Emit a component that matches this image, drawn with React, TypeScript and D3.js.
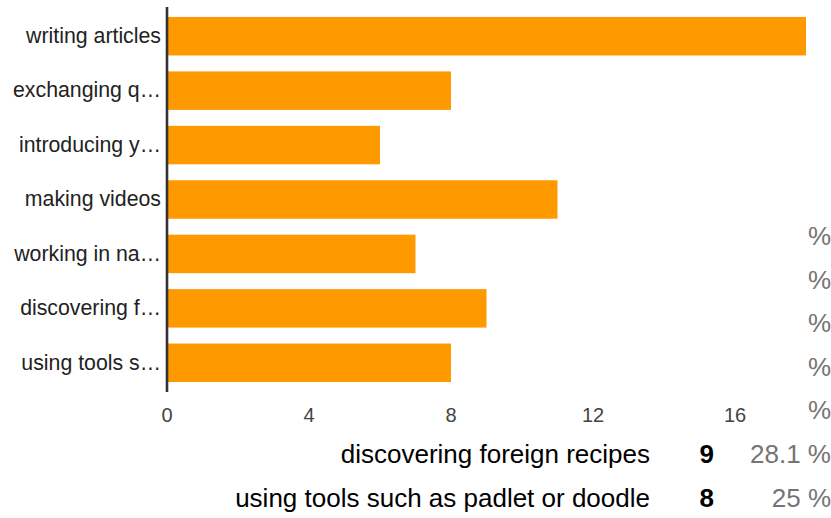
import React from "react";
import * as d3 from "d3";

const categories = [
  "writing articles",
  "exchanging q…",
  "introducing y…",
  "making videos",
  "working in na…",
  "discovering f…",
  "using tools s…",
];
const counts = [18, 8, 6, 11, 7, 9, 8];
const xTicks = [0, 4, 8, 12, 16];
const hiddenRowSuffix = ["%", "%", "%", "%", "%"];
const legendLabels = ["discovering foreign recipes", "using tools such as padlet or doodle"];
const legendCounts = [9, 8];
const legendPercents = ["28.1 %", "25 %"];

const W = 831;
const H = 518;
const FONT = "'Liberation Sans', Arial, sans-serif";

export default function App() {
  const x = d3.scaleLinear().domain([0, 18]).range([167, 806]);
  const y = d3.scaleBand<string>().domain(categories).range([9, 390]).paddingInner(0.293).paddingOuter(0.1465);
  const rowStep = 43.6;
  const legendBase = 463;

  return (
    <svg width={W} height={H} style={{ position: "absolute", left: 0, top: 0, background: "#fff" }} fontFamily={FONT}>
      {hiddenRowSuffix.map((s, i) => (
        <text key={"h" + i} x={831} y={legendBase - rowStep * (hiddenRowSuffix.length - i)} textAnchor="end" fontSize={26} fill="#757575">
          {s}
        </text>
      ))}
      {categories.map((c, i) => (
        <rect key={"b" + i} x={x(0)} y={y(c)} width={x(counts[i]) - x(0)} height={y.bandwidth()} fill="#ff9900" />
      ))}
      {categories.map((c, i) => (
        <text key={"l" + i} x={161} y={(y(c) as number) + y.bandwidth() / 2 + 6.8} textAnchor="end" fontSize={21.3} fill="#222">
          {c}
        </text>
      ))}
      <line x1={x(0)} x2={x(0)} y1={7} y2={392} stroke="#333" strokeWidth={2.6} />
      {xTicks.map((t) => (
        <text key={"t" + t} x={x(t)} y={422} textAnchor="middle" fontSize={20} fill="#444">
          {t}
        </text>
      ))}
      {legendLabels.map((l, i) => (
        <g key={"g" + i}>
          <text x={650} y={legendBase + rowStep * i} textAnchor="end" fontSize={26} fill="#000">
            {l}
          </text>
          <text x={714} y={legendBase + rowStep * i} textAnchor="end" fontSize={26} fontWeight="bold" fill="#000">
            {legendCounts[i]}
          </text>
          <text x={831} y={legendBase + rowStep * i} textAnchor="end" fontSize={26} fill="#757575">
            {legendPercents[i]}
          </text>
        </g>
      ))}
    </svg>
  );
}
